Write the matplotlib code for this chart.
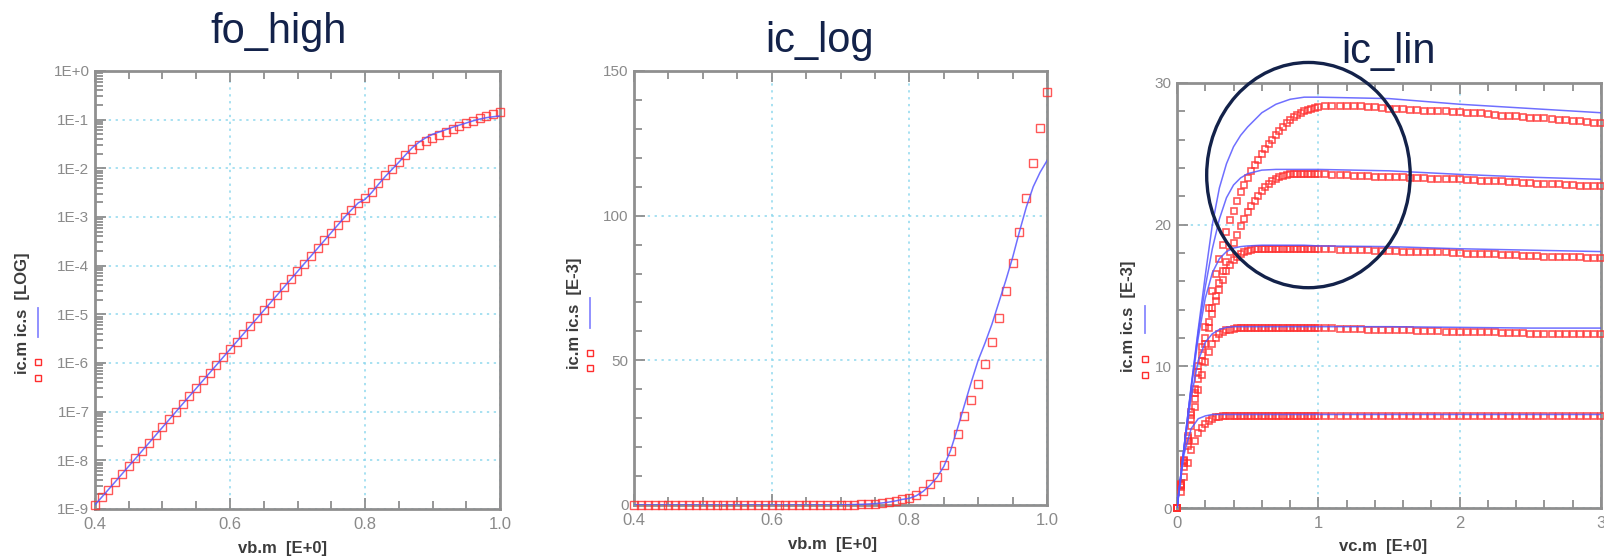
import matplotlib
matplotlib.use("Agg")
import matplotlib.pyplot as plt
from matplotlib.lines import Line2D
from matplotlib.patches import Ellipse
from matplotlib.ticker import FixedLocator, MultipleLocator, LogLocator, NullFormatter

W, H = 1604, 560

# Gummel sweep: base voltage [V] and collector current [A]
vb = [0.40, 0.41, 0.42, 0.43, 0.44, 0.45, 0.46, 0.47, 0.48, 0.49,
      0.50, 0.51, 0.52, 0.53, 0.54, 0.55, 0.56, 0.57, 0.58, 0.59,
      0.60, 0.61, 0.62, 0.63, 0.64, 0.65, 0.66, 0.67, 0.68, 0.69,
      0.70, 0.71, 0.72, 0.73, 0.74, 0.75, 0.76, 0.77, 0.78, 0.79,
      0.80, 0.81, 0.82, 0.83, 0.84, 0.85, 0.86, 0.87, 0.88, 0.89,
      0.90, 0.91, 0.92, 0.93, 0.94, 0.95, 0.96, 0.97, 0.98, 0.99,
      1.00]
ic_m_vb = [1.20e-9, 1.74e-9, 2.51e-9, 3.63e-9, 5.25e-9, 7.59e-9, 1.10e-8, 1.58e-8, 2.29e-8, 3.31e-8,
           4.79e-8, 6.92e-8, 1.00e-7, 1.45e-7, 2.09e-7, 3.02e-7, 4.37e-7, 6.31e-7, 9.12e-7, 1.32e-6,
           1.91e-6, 2.75e-6, 3.98e-6, 5.75e-6, 8.32e-6, 1.20e-5, 1.74e-5, 2.51e-5, 3.63e-5, 5.25e-5,
           7.59e-5, 1.10e-4, 1.58e-4, 2.29e-4, 3.31e-4, 4.79e-4, 6.92e-4, 1.00e-3, 1.41e-3, 1.95e-3,
           2.4e-3, 3.3e-3, 4.9e-3, 7.3e-3, 9.8e-3, 13.8e-3, 18.7e-3, 24.5e-3, 30.8e-3, 36.3e-3,
           41.8e-3, 48.6e-3, 56.2e-3, 64.7e-3, 73.9e-3, 83.5e-3, 94.5e-3, 106.0e-3, 118.1e-3, 130.4e-3,
           142.9e-3]
ic_s_vb = [1.22e-9, 1.75e-9, 2.52e-9, 3.63e-9, 5.24e-9, 7.57e-9, 1.09e-8, 1.58e-8, 2.28e-8, 3.30e-8,
           4.78e-8, 6.90e-8, 1.00e-7, 1.45e-7, 2.09e-7, 3.02e-7, 4.37e-7, 6.31e-7, 9.12e-7, 1.32e-6,
           1.91e-6, 2.75e-6, 3.98e-6, 5.75e-6, 8.32e-6, 1.20e-5, 1.74e-5, 2.51e-5, 3.63e-5, 5.25e-5,
           7.59e-5, 1.10e-4, 1.58e-4, 2.29e-4, 3.31e-4, 4.79e-4, 6.92e-4, 1.00e-3, 1.41e-3, 1.95e-3,
           2.3e-3, 3.2e-3, 4.7e-3, 6.8e-3, 9.5e-3, 13.3e-3, 18.9e-3, 26.5e-3, 34.5e-3, 42.5e-3,
           50.0e-3, 56.0e-3, 62.5e-3, 70.0e-3, 77.5e-3, 85.5e-3, 94.5e-3, 103.0e-3, 110.0e-3, 115.0e-3,
           119.0e-3]

# Output characteristics: collector voltage [V], collector current [mA], five base steps.
# Fine steps up to 1 V, coarser afterwards.
vc_m = [0.000, 0.025, 0.050, 0.075, 0.100, 0.125, 0.150, 0.175, 0.200, 0.225,
        0.250, 0.275, 0.300, 0.325, 0.350, 0.375, 0.400, 0.425, 0.450, 0.475,
        0.500, 0.525, 0.550, 0.575, 0.600, 0.625, 0.650, 0.675, 0.700, 0.725,
        0.750, 0.775, 0.800, 0.825, 0.850, 0.875, 0.900, 0.925, 0.950, 0.975,
        1.000,
        1.05, 1.10, 1.15, 1.20, 1.25, 1.30, 1.35, 1.40, 1.45, 1.50,
        1.55, 1.60, 1.65, 1.70, 1.75, 1.80, 1.85, 1.90, 1.95, 2.00,
        2.05, 2.10, 2.15, 2.20, 2.25, 2.30, 2.35, 2.40, 2.45, 2.50,
        2.55, 2.60, 2.65, 2.70, 2.75, 2.80, 2.85, 2.90, 2.95, 3.00]
ic_m1 = [0.0, 1.7, 3.4, 5.1, 6.8, 8.4, 10.0, 11.4, 12.8, 14.1,
         15.3, 16.5, 17.6, 18.6, 19.5, 20.3, 21.0, 21.7, 22.3, 22.8,
         23.3, 23.8, 24.2, 24.6, 25.0, 25.35, 25.7, 26.0, 26.3, 26.6,
         26.9, 27.15, 27.4, 27.6, 27.75, 27.9, 28.0, 28.1, 28.2, 28.25,
         28.3,
         28.4, 28.4, 28.4, 28.4, 28.35, 28.35, 28.3, 28.3, 28.25, 28.2,
         28.2, 28.15, 28.1, 28.1, 28.05, 28.05, 28.0, 28.0, 27.95, 27.95,
         27.9, 27.85, 27.85, 27.8, 27.75, 27.7, 27.7, 27.65, 27.6, 27.55,
         27.55, 27.5, 27.45, 27.4, 27.4, 27.35, 27.3, 27.25, 27.2, 27.2]
ic_m2 = [0.0, 1.65, 3.3, 4.95, 6.6, 8.1, 9.6, 10.8, 12.0, 13.1,
         14.1, 15.0, 15.9, 16.7, 17.4, 18.1, 18.7, 19.3, 19.9, 20.4,
         20.9, 21.3, 21.7, 22.05, 22.4, 22.65, 22.9, 23.1, 23.25, 23.35,
         23.45, 23.5, 23.55, 23.6, 23.6, 23.6, 23.6, 23.6, 23.6, 23.55,
         23.55,
         23.55, 23.5, 23.5, 23.5, 23.45, 23.45, 23.45, 23.4, 23.4, 23.4,
         23.35, 23.35, 23.3, 23.3, 23.3, 23.25, 23.25, 23.2, 23.2, 23.2,
         23.15, 23.15, 23.1, 23.1, 23.05, 23.05, 23.0, 23.0, 22.95, 22.95,
         22.9, 22.9, 22.85, 22.85, 22.8, 22.8, 22.75, 22.75, 22.7, 22.7]
ic_m3 = [0.0, 1.6, 3.2, 4.75, 6.3, 7.7, 9.1, 10.4, 11.6, 12.7,
         13.7, 14.6, 15.4, 16.1, 16.7, 17.15, 17.5, 17.75, 17.95, 18.05,
         18.15, 18.2, 18.25, 18.3, 18.3, 18.3, 18.3, 18.3, 18.3, 18.3,
         18.3, 18.3, 18.3, 18.3, 18.3, 18.3, 18.3, 18.3, 18.25, 18.25,
         18.25,
         18.25, 18.25, 18.2, 18.2, 18.2, 18.2, 18.2, 18.15, 18.15, 18.15,
         18.15, 18.1, 18.1, 18.1, 18.1, 18.05, 18.05, 18.05, 18.0, 18.0,
         17.95, 17.95, 17.95, 17.9, 17.9, 17.85, 17.85, 17.85, 17.8, 17.8,
         17.8, 17.75, 17.75, 17.75, 17.7, 17.7, 17.7, 17.65, 17.65, 17.65]
ic_m4 = [0.0, 1.45, 2.9, 4.35, 5.8, 7.1, 8.3, 9.4, 10.3, 11.0,
         11.6, 12.0, 12.3, 12.45, 12.55, 12.6, 12.65, 12.7, 12.7, 12.7,
         12.7, 12.7, 12.7, 12.7, 12.7, 12.7, 12.7, 12.7, 12.7, 12.7,
         12.7, 12.7, 12.7, 12.7, 12.7, 12.7, 12.7, 12.7, 12.7, 12.7,
         12.7,
         12.7, 12.7, 12.65, 12.65, 12.65, 12.65, 12.6, 12.6, 12.6, 12.6,
         12.55, 12.55, 12.55, 12.5, 12.5, 12.5, 12.5, 12.45, 12.45, 12.45,
         12.45, 12.4, 12.4, 12.4, 12.4, 12.35, 12.35, 12.35, 12.35, 12.3,
         12.3, 12.3, 12.3, 12.3, 12.25, 12.25, 12.25, 12.25, 12.25, 12.25]
ic_m5 = [0.0, 1.1, 2.2, 3.2, 4.1, 4.75, 5.3, 5.65, 5.95, 6.15,
         6.3, 6.4, 6.45, 6.5, 6.5, 6.5, 6.5, 6.5, 6.5, 6.5,
         6.5, 6.5, 6.5, 6.5, 6.5, 6.5, 6.5, 6.5, 6.5, 6.5,
         6.5, 6.5, 6.5, 6.5, 6.5, 6.5, 6.5, 6.5, 6.5, 6.5,
         6.5,
         6.5, 6.5, 6.5, 6.5, 6.5, 6.5, 6.5, 6.5, 6.5, 6.5,
         6.5, 6.5, 6.5, 6.5, 6.5, 6.5, 6.5, 6.5, 6.5, 6.5,
         6.5, 6.5, 6.5, 6.5, 6.5, 6.5, 6.5, 6.5, 6.5, 6.5,
         6.5, 6.5, 6.5, 6.5, 6.5, 6.5, 6.5, 6.5, 6.5, 6.5]

vc_s = [0.0, 0.05, 0.1, 0.15, 0.2, 0.25, 0.3, 0.35, 0.4, 0.45,
        0.5, 0.6, 0.7, 0.8, 0.9, 1.0, 1.5, 2.0, 2.5, 3.0]
ic_s1 = [0.0, 4.3, 8.6, 12.6, 16.4, 20.0, 22.6, 24.3, 25.5, 26.3,
         26.9, 27.9, 28.5, 28.85, 29.0, 29.0, 28.9, 28.5, 28.2, 27.9]
ic_s2 = [0.0, 4.3, 8.5, 12.4, 15.6, 18.3, 20.4, 21.9, 22.8, 23.3,
         23.6, 23.85, 23.9, 23.9, 23.9, 23.9, 23.8, 23.55, 23.35, 23.2]
ic_s3 = [0.0, 4.3, 8.4, 12.0, 14.8, 16.6, 17.6, 18.1, 18.35, 18.45,
         18.5, 18.55, 18.55, 18.55, 18.55, 18.5, 18.45, 18.3, 18.2, 18.1]
ic_s4 = [0.0, 4.2, 7.8, 10.4, 11.7, 12.3, 12.6, 12.75, 12.8, 12.8,
         12.8, 12.8, 12.8, 12.8, 12.8, 12.8, 12.8, 12.75, 12.7, 12.7]
ic_s5 = [0.0, 3.8, 5.6, 6.3, 6.5, 6.6, 6.6, 6.6, 6.6, 6.6,
         6.6, 6.6, 6.6, 6.6, 6.6, 6.6, 6.6, 6.6, 6.6, 6.6]

titles = ["fo_high", "ic_log", "ic_lin"]
ylabels = ["ic.m ic.s  [LOG]", "ic.m ic.s  [E-3]", "ic.m ic.s  [E-3]"]
xlabels = ["vb.m  [E+0]", "vb.m  [E+0]", "vc.m  [E+0]"]
log_labels = ["1E-9", "1E-8", "1E-7", "1E-6", "1E-5", "1E-4", "1E-3", "1E-2", "1E-1", "1E+0"]

# colours
SPINE = "#8f8f8f"
TICKTXT = "#8a8a8a"
LABEL = "#3c3c3c"
GRID = "#8fd8ee"
MEAS = "#ff2d2d"
SIM = "#5656ff"
NAVY = "#13224a"

plt.rcParams["font.family"] = ["Liberation Sans Narrow", "Liberation Sans", "DejaVu Sans"]

fig = plt.figure(figsize=(W / 100, H / 100), dpi=100)
fig.patch.set_facecolor("white")


def fx(x):
    return x / W


def fy(y):
    return 1 - y / H


def make_axes(x0, y0, x1, y1):
    return fig.add_axes([fx(x0), fy(y1), (x1 - x0) / W, (y1 - y0) / H])


def style_axes(ax):
    for sp in ax.spines.values():
        sp.set_color(SPINE)
        sp.set_linewidth(2)
    ax.tick_params(which="both", direction="in", top=True, right=False,
                   color=SPINE, labelcolor=TICKTXT, width=1.3)
    ax.tick_params(which="major", length=8)
    ax.tick_params(which="minor", length=6)
    ax.tick_params(axis="x", labelsize=12, pad=6)
    ax.tick_params(axis="y", labelsize=11, pad=4)
    ax.grid(True, which="major", color=GRID, linestyle=(0, (1.5, 3)), linewidth=1.1)
    ax.set_axisbelow(True)


def ylabel_with_keys(xc, yc, text, x_key, sq_y, line_y):
    # rotated axis label plus the little marker / line keys beside it
    fig.text(fx(xc), fy(yc), text, rotation=90, ha="center", va="center",
             fontsize=12, fontweight="bold", color=LABEL)
    for y in sq_y:
        fig.add_artist(Line2D([fx(x_key)], [fy(y)], transform=fig.transFigure,
                              marker="s", ms=5, mfc="none", mec=MEAS, mew=1.0, ls="none"))
    fig.add_artist(Line2D([fx(x_key), fx(x_key)], [fy(line_y[0]), fy(line_y[1])],
                          transform=fig.transFigure, color=SIM, lw=1.3, alpha=0.7))


def plot_meas(ax, x, y, ms=5.2, mew=1.0):
    ax.plot(x, y, ls="none", marker="s", ms=ms, mfc="none", mec=MEAS,
            mew=mew, alpha=0.8, clip_on=False, zorder=3)


def plot_sim(ax, x, y):
    ax.plot(x, y, color=SIM, lw=1.1, alpha=0.85, zorder=4)


# 1. fo_high: log Gummel plot
ax1 = make_axes(95, 71, 500, 509)
ax1.set_yscale("log")
plot_meas(ax1, vb, ic_m_vb)
plot_sim(ax1, vb, ic_s_vb)
ax1.set_xlim(0.4, 1.0)
ax1.set_ylim(1e-9, 1.0)
ax1.xaxis.set_major_locator(FixedLocator([0.4, 0.6, 0.8, 1.0]))
ax1.xaxis.set_minor_locator(MultipleLocator(0.05))
ax1.set_xticklabels(["0.4", "0.6", "0.8", "1.0"])
ax1.yaxis.set_major_locator(FixedLocator([10.0 ** k for k in range(-9, 1)]))
ax1.yaxis.set_minor_locator(LogLocator(base=10, subs=range(2, 10), numticks=20))
ax1.yaxis.set_minor_formatter(NullFormatter())
ax1.set_yticklabels(log_labels)
style_axes(ax1)

# 2. ic_log: same sweep on a linear mA axis
ax2 = make_axes(634, 71, 1047, 505)
plot_meas(ax2, vb, [v * 1e3 for v in ic_m_vb])
plot_sim(ax2, vb, [v * 1e3 for v in ic_s_vb])
ax2.set_xlim(0.4, 1.0)
ax2.set_ylim(0, 150)
ax2.xaxis.set_major_locator(FixedLocator([0.4, 0.6, 0.8, 1.0]))
ax2.xaxis.set_minor_locator(MultipleLocator(0.05))
ax2.set_xticklabels(["0.4", "0.6", "0.8", "1.0"])
ax2.yaxis.set_major_locator(FixedLocator([0, 50, 100, 150]))
ax2.yaxis.set_minor_locator(MultipleLocator(10))
style_axes(ax2)

# 3. ic_lin: output curves
ax3 = make_axes(1177, 83, 1601, 508)
for ic_m in (ic_m1, ic_m2, ic_m3, ic_m4, ic_m5):
    plot_meas(ax3, vc_m, ic_m, ms=4.8, mew=1.2)
for ic_s in (ic_s1, ic_s2, ic_s3, ic_s4, ic_s5):
    plot_sim(ax3, vc_s, ic_s)
ax3.set_xlim(0, 3)
ax3.set_ylim(0, 30)
ax3.xaxis.set_major_locator(FixedLocator([0, 1, 2, 3]))
ax3.xaxis.set_minor_locator(MultipleLocator(0.2))
ax3.yaxis.set_major_locator(FixedLocator([0, 10, 20, 30]))
ax3.yaxis.set_minor_locator(MultipleLocator(2))
style_axes(ax3)
ax3.add_patch(Ellipse((0.93, 23.5), 1.44, 15.9, fill=False, ec=NAVY, lw=2.4,
                      clip_on=False, zorder=6))

# titles and axis labels
for (xc, yb), title in zip([(279, 43), (820, 52), (1389, 63)], titles):
    fig.text(fx(xc), fy(yb), title, ha="center", va="baseline", fontsize=30,
             color=NAVY, family=["Liberation Sans", "DejaVu Sans"])

for (xc, yc), lbl in zip([(283, 548), (832, 545), (1383, 546)], xlabels):
    fig.text(fx(xc), fy(yc), lbl, ha="center", va="center", fontsize=12,
             fontweight="bold", color=LABEL)

ylabel_with_keys(23, 313, ylabels[0], 38, (362, 378), (308, 337))
ylabel_with_keys(575, 313, ylabels[1], 590, (353, 368), (298, 328))
ylabel_with_keys(1128, 316, ylabels[2], 1145, (359, 375), (306, 333))

fig.savefig("out.png", dpi=100)
